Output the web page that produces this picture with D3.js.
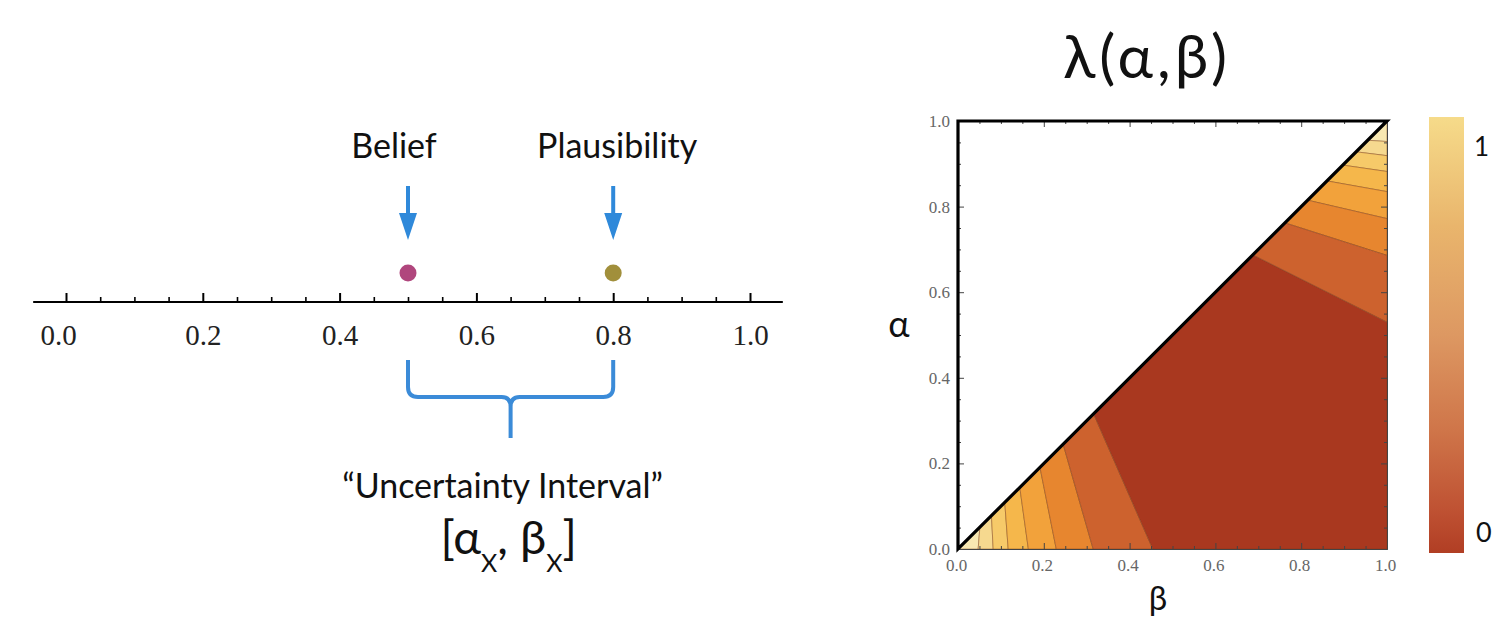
<!DOCTYPE html>
<html>
<head>
<meta charset="utf-8">
<script src="https://cdn.jsdelivr.net/npm/d3@7/dist/d3.min.js"></script>
<style>
  body { margin: 0; background: #fff; }
  svg { display: block; }
  .sans { font-family: Lato, "Noto Sans", sans-serif; fill: #111; }
  .serif { font-family: "Liberation Serif", "DejaVu Serif", serif; }
</style>
</head>
<body>
<script>
// ---- left panel: number line ----
var lineMajor = [0, 0.2, 0.4, 0.6, 0.8, 1.0];
var lineMinor = [0.05, 0.1, 0.15, 0.25, 0.3, 0.35, 0.45, 0.5, 0.55, 0.65, 0.7, 0.75, 0.85, 0.9, 0.95];
var markers = [
  {name: "Belief", value: 0.5, color: "#b0467d"},
  {name: "Plausibility", value: 0.8, color: "#a18f3b"}
];

// ---- right panel: lambda(alpha, beta) contour ----
var ticksMajor = [0, 0.2, 0.4, 0.6, 0.8, 1.0];
var ticksMinor = [0.05, 0.1, 0.15, 0.25, 0.3, 0.35, 0.45, 0.5, 0.55, 0.65, 0.7, 0.75, 0.85, 0.9, 0.95];
// contour lines near the origin: [beta on diagonal, beta on alpha=0 axis]
var lowLines = [[0.051, 0.047], [0.078, 0.082], [0.109, 0.117], [0.144, 0.164], [0.191, 0.229], [0.245, 0.315], [0.316, 0.454]];
// contour lines near (1,1): [t on diagonal, alpha on beta=1 edge]
var highLines = [[0.955, 0.952], [0.928, 0.919], [0.897, 0.882], [0.86, 0.835], [0.815, 0.772], [0.762, 0.686], [0.687, 0.53]];
// band colours, lightest (at the corners) to darkest (the middle)
var bandColors = ["#f8e8b2", "#f6d98f", "#f6ca69", "#f5b74b", "#f2a23b", "#e7862f", "#cd622e", "#a9381f"];
var barStops = [[0, "#f6db8a"], [0.25, "#e9b56c"], [0.5, "#dd9862"], [0.72, "#cf7549"], [0.9, "#bf5233"], [1, "#b13e24"]];

var svg = d3.select("body").append("svg")
  .attr("width", 1495)
  .attr("height", 618);

// ===== left =====
var xL = d3.scaleLinear().domain([0, 1]).range([66, 750]);
var axisY = 302;

svg.append("line")
  .attr("x1", xL(-0.048)).attr("x2", xL(1.048))
  .attr("y1", axisY).attr("y2", axisY)
  .attr("stroke", "#000").attr("stroke-width", 2.2);

var gMajor = svg.append("g")
  .attr("transform", "translate(0," + axisY + ")")
  .call(d3.axisBottom(xL).tickValues(lineMajor).tickSize(-9).tickSizeOuter(0)
    .tickFormat(d3.format(".1f")).tickPadding(22));
gMajor.select(".domain").remove();
gMajor.selectAll("line").attr("stroke", "#000").attr("stroke-width", 2);
gMajor.selectAll("text")
  .attr("class", "serif")
  .attr("font-size", 29)
  .attr("fill", "#222")
  .attr("dx", function(d) { return d == 0 ? -8 : 0; });

var gMinor = svg.append("g")
  .attr("transform", "translate(0," + axisY + ")")
  .call(d3.axisBottom(xL).tickValues(lineMinor).tickSize(-5).tickSizeOuter(0).tickFormat(""));
gMinor.select(".domain").remove();
gMinor.selectAll("line").attr("stroke", "#000").attr("stroke-width", 1.6);

svg.selectAll(".dot").data(markers).enter().append("circle")
  .attr("cx", function(d) { return xL(d.value); })
  .attr("cy", 273)
  .attr("r", 8.5)
  .attr("fill", function(d) { return d.color; });

var blue = "#2f89da";
var arr = svg.selectAll(".arr").data(markers).enter().append("g");
arr.append("line")
  .attr("x1", function(d) { return xL(d.value); })
  .attr("x2", function(d) { return xL(d.value); })
  .attr("y1", 186).attr("y2", 218)
  .attr("stroke", blue).attr("stroke-width", 4);
arr.append("path")
  .attr("d", function(d) {
    var x = xL(d.value);
    return "M" + (x - 9) + ",213L" + (x + 9) + ",213L" + x + ",240Z";
  })
  .attr("fill", blue);
arr.append("text")
  .attr("class", "sans")
  .attr("x", function(d) { return xL(d.value) - (d.name == "Belief" ? 14 : -4); })
  .attr("y", 158)
  .attr("text-anchor", "middle")
  .attr("font-size", 34)
  .text(function(d) { return d.name; });

// curly brace between belief and plausibility
var bx0 = xL(markers[0].value), bx1 = xL(markers[1].value), bm = (bx0 + bx1) / 2;
svg.append("path")
  .attr("d", "M" + bx0 + ",360L" + bx0 + ",387Q" + bx0 + ",397 " + (bx0 + 10) + ",397L" + (bm - 9) + ",397Q" + bm + ",397 " + bm + ",407L" + bm + ",438" +
             "M" + bm + ",407Q" + bm + ",397 " + (bm + 9) + ",397L" + (bx1 - 10) + ",397Q" + bx1 + ",397 " + bx1 + ",387L" + bx1 + ",360")
  .attr("fill", "none")
  .attr("stroke", "#3b8bd8")
  .attr("stroke-width", 4);

svg.append("text")
  .attr("class", "sans")
  .attr("x", bm - 8).attr("y", 498)
  .attr("text-anchor", "middle")
  .attr("font-size", 34)
  .text("\u201CUncertainty Interval\u201D");

var iv = svg.append("text")
  .attr("class", "sans")
  .attr("x", bm - 2).attr("y", 554)
  .attr("text-anchor", "middle")
  .attr("font-size", 47);
iv.append("tspan").text("[\u03B1");
iv.append("tspan").attr("font-size", 25).attr("dy", 18).text("X");
iv.append("tspan").attr("dy", -18).text(", \u03B2");
iv.append("tspan").attr("font-size", 25).attr("dy", 18).text("X");
iv.append("tspan").attr("dy", -18).text("]");

// ===== right =====
var xR = d3.scaleLinear().domain([0, 1]).range([958, 1387]);
var yR = d3.scaleLinear().domain([0, 1]).range([549, 121]);
function pt(b, a) { return xR(b) + "," + yR(a); }

var bands = [];
// bands at the origin
for (var i = 0; i < lowLines.length; i++) {
  var p;
  if (i == 0) p = [pt(0, 0), pt(lowLines[0][0], lowLines[0][0]), pt(lowLines[0][1], 0)];
  else p = [pt(lowLines[i - 1][1], 0), pt(lowLines[i - 1][0], lowLines[i - 1][0]), pt(lowLines[i][0], lowLines[i][0]), pt(lowLines[i][1], 0)];
  bands.push({pts: p, c: bandColors[i]});
}
// bands at (1,1)
for (var j = 0; j < highLines.length; j++) {
  var q;
  if (j == 0) q = [pt(1, 1), pt(highLines[0][0], highLines[0][0]), pt(1, highLines[0][1])];
  else q = [pt(1, highLines[j - 1][1]), pt(highLines[j - 1][0], highLines[j - 1][0]), pt(highLines[j][0], highLines[j][0]), pt(1, highLines[j][1])];
  bands.push({pts: q, c: bandColors[j]});
}
// middle region
var lastLo = lowLines[lowLines.length - 1], lastHi = highLines[highLines.length - 1];
bands.push({pts: [pt(lastLo[1], 0), pt(1, 0), pt(1, lastHi[1]), pt(lastHi[0], lastHi[0]), pt(lastLo[0], lastLo[0])], c: bandColors[7]});

svg.selectAll(".band").data(bands).enter().append("polygon")
  .attr("points", function(d) { return d.pts.join(" "); })
  .attr("fill", function(d) { return d.c; })
  .attr("stroke", "#7a3a12")
  .attr("stroke-opacity", 0.55)
  .attr("stroke-width", 0.8);

// frame with inward ticks
function frameAxis(axis, tr, vals, size) {
  var g = svg.append("g").attr("transform", tr)
    .call(axis.tickValues(vals).tickSize(size).tickSizeOuter(0));
  g.select(".domain").attr("stroke", "#444").attr("stroke-width", 1);
  g.selectAll("line").attr("stroke", "#444");
  return g;
}
var gb = frameAxis(d3.axisBottom(xR).tickFormat(d3.format(".1f")), "translate(0,549)", ticksMajor, -6);
frameAxis(d3.axisBottom(xR).tickFormat(""), "translate(0,549)", ticksMinor, -3);
var gl = frameAxis(d3.axisLeft(yR).tickFormat(d3.format(".1f")), "translate(958,0)", ticksMajor, -6);
frameAxis(d3.axisLeft(yR).tickFormat(""), "translate(958,0)", ticksMinor, -3);
frameAxis(d3.axisTop(xR).tickFormat(""), "translate(0,121)", ticksMajor, -6);
frameAxis(d3.axisTop(xR).tickFormat(""), "translate(0,121)", ticksMinor, -3);
frameAxis(d3.axisRight(yR).tickFormat(""), "translate(1387,0)", ticksMajor, -6);
frameAxis(d3.axisRight(yR).tickFormat(""), "translate(1387,0)", ticksMinor, -3);

gb.selectAll("text").attr("class", "serif").attr("font-size", 17).attr("fill", "#666")
  .attr("y", 10).attr("dx", -2);
gl.selectAll("text").attr("class", "serif").attr("font-size", 17).attr("fill", "#666")
  .attr("x", -8);

// thick borders: left, top and diagonal
svg.append("path")
  .attr("d", "M" + pt(0, 0) + "L" + pt(0, 1) + "L" + pt(1, 1) + "Z")
  .attr("fill", "none")
  .attr("stroke", "#000")
  .attr("stroke-width", 3.2)
  .attr("stroke-linejoin", "miter");

svg.append("text")
  .attr("class", "sans")
  .attr("x", 1147).attr("y", 78)
  .attr("text-anchor", "middle")
  .attr("font-size", 60)
  .attr("letter-spacing", 4)
  .text("\u03BB(\u03B1,\u03B2)");

svg.append("text")
  .attr("class", "sans")
  .attr("x", 899).attr("y", 337)
  .attr("text-anchor", "middle")
  .attr("font-size", 36)
  .text("\u03B1");

svg.append("text")
  .attr("class", "sans")
  .attr("x", 1158).attr("y", 610)
  .attr("text-anchor", "middle")
  .attr("font-size", 33)
  .text("\u03B2");

// colour bar
var yC = d3.scaleLinear().domain([0, 1]).range([553, 117]);
var grad = svg.append("defs").append("linearGradient")
  .attr("id", "bar").attr("x1", 0).attr("x2", 0).attr("y1", 0).attr("y2", 1);
grad.selectAll("stop").data(barStops).enter().append("stop")
  .attr("offset", function(d) { return d[0]; })
  .attr("stop-color", function(d) { return d[1]; });
svg.append("rect")
  .attr("x", 1429).attr("width", 35)
  .attr("y", yC(1)).attr("height", yC(0) - yC(1))
  .attr("fill", "url(#bar)");
svg.append("text").attr("class", "sans")
  .attr("x", 1474).attr("y", yC(0.91)).attr("font-size", 26).text("1");
svg.append("text").attr("class", "sans")
  .attr("x", 1476).attr("y", yC(0.025)).attr("font-size", 27).text("0");
</script>
</body>
</html>
